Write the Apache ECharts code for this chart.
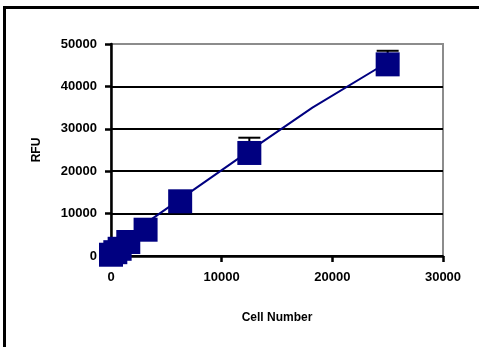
<!DOCTYPE html>
<html>
<head>
<meta charset="utf-8">
<script src="https://cdn.jsdelivr.net/npm/echarts@6/dist/echarts.min.js"></script>
<style>
html,body{margin:0;padding:0;background:#fff;}
#chart{width:479px;height:347px;}
</style>
</head>
<body>
<div id="chart"></div>
<script>
// Data
var cellNumbers = [0, 390, 781, 1562, 3125, 6250, 12500, 25000];
var rfuValues   = [300, 900, 1700, 3300, 6200, 12900, 24300, 45200];
var rfuErrorUp  = [0, 0, 0, 0, 0, 0, 3600, 3200];
var trendX = [0, 3125, 6250, 12500, 18200, 25000];
var trendY = [1500, 7700, 13400, 24800, 35000, 45700];
var xTicks = [0, 10000, 20000, 30000];
var yTicks = [0, 10000, 20000, 30000, 40000, 50000];

var pts = cellNumbers.map(function (x, i) { return [x, rfuValues[i]]; });
var errPts = cellNumbers.map(function (x, i) { return [x, rfuValues[i], rfuValues[i] + rfuErrorUp[i]]; })
  .filter(function (d) { return d[2] > d[1]; });
var trend = trendX.map(function (x, i) { return [x, trendY[i]]; });

var navy = '#000080';
var font = 'Liberation Sans, Arial, sans-serif';
function plain(v) { return String(v); }

var chart = echarts.init(document.getElementById('chart'), null, {renderer: 'canvas'});
chart.setOption({
  animation: false,
  backgroundColor: '#fff',
  graphic: [
    {type: 'line', shape: {x1: 3, y1: 7.5, x2: 479, y2: 7.5}, style: {stroke: '#000', lineWidth: 3}},
    {type: 'line', shape: {x1: 4.5, y1: 6, x2: 4.5, y2: 347}, style: {stroke: '#000', lineWidth: 3}}
  ],
  grid: {
    left: 111, right: 36, top: 44, bottom: 91,
    show: true, borderColor: '#8c8c8c', borderWidth: 2, backgroundColor: '#fff'
  },
  xAxis: {
    type: 'value', min: xTicks[0], max: xTicks[xTicks.length - 1], interval: 10000,
    name: 'Cell Number', nameLocation: 'middle', nameGap: 56,
    nameTextStyle: {fontFamily: font, fontWeight: 'bold', fontSize: 12, color: '#000'},
    axisLine: {show: true, lineStyle: {color: '#000', width: 2.5}},
    axisTick: {show: true, length: 6, lineStyle: {color: '#000', width: 2.5}},
    axisLabel: {fontFamily: font, fontWeight: 'bold', fontSize: 13, color: '#000', margin: 15, formatter: plain},
    splitLine: {show: false}
  },
  yAxis: {
    type: 'value', min: yTicks[0], max: yTicks[yTicks.length - 1], interval: 10000,
    name: 'RFU', nameLocation: 'middle', nameGap: 68, nameRotate: 90,
    nameTextStyle: {fontFamily: font, fontWeight: 'bold', fontSize: 12, color: '#000'},
    axisLine: {show: true, lineStyle: {color: '#000', width: 2.5}},
    axisTick: {show: true, length: 6, lineStyle: {color: '#000', width: 2.5}},
    axisLabel: {fontFamily: font, fontWeight: 'bold', fontSize: 13, color: '#000', margin: 14, formatter: plain},
    splitLine: {show: true, lineStyle: {color: ['#000', '#000', '#000', '#000', '#000', '#8c8c8c'], width: 2}}
  },
  series: [
    {
      type: 'custom',
      data: errPts,
      z: 3,
      renderItem: function (params, api) {
        var x = api.value(0);
        var p0 = api.coord([x, api.value(1)]);
        var p1 = api.coord([x, api.value(2)]);
        return {
          type: 'group',
          children: [
            {type: 'line', shape: {x1: p0[0], y1: p0[1], x2: p1[0], y2: p1[1]}, style: {stroke: '#000', lineWidth: 2}},
            {type: 'line', shape: {x1: p1[0] - 11, y1: p1[1], x2: p1[0] + 11, y2: p1[1]}, style: {stroke: '#000', lineWidth: 2}}
          ]
        };
      }
    },
    {
      type: 'line',
      data: trend,
      showSymbol: false,
      z: 4,
      lineStyle: {color: navy, width: 2}
    },
    {
      type: 'scatter',
      data: pts,
      symbol: 'rect',
      symbolSize: 24,
      z: 5,
      itemStyle: {color: navy, opacity: 1}
    }
  ]
});
</script>
</body>
</html>
